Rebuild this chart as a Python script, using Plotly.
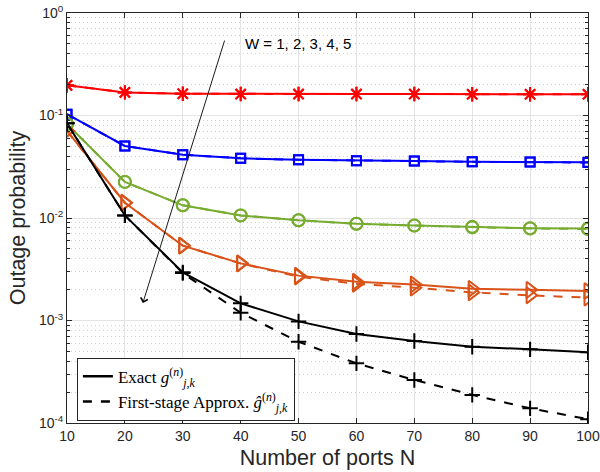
import plotly.graph_objects as go
import numpy as np

N = [10, 20, 30, 40, 50, 60, 70, 80, 90, 100]

exact_w1 = [0.197, 0.168, 0.163, 0.162, 0.162, 0.162, 0.162, 0.161, 0.161, 0.161]
exact_w2 = [0.103, 0.0504, 0.0415, 0.0382, 0.0370, 0.0362, 0.0359, 0.0354, 0.0352, 0.0349]
exact_w3 = [0.0826, 0.0225, 0.0133, 0.0106, 0.0095, 0.0088, 0.00846, 0.0082, 0.00796, 0.0079]
exact_w4 = [0.0706, 0.0141, 0.00537, 0.00361, 0.00274, 0.00239, 0.00225, 0.00204, 0.00199, 0.00194]
exact_w5 = [0.084, 0.0106, 0.00295, 0.00147, 0.00098, 0.000738, 0.000631, 0.000555, 0.000523, 0.00049]

approx_w1 = [0.197, 0.168, 0.163, 0.162, 0.162, 0.162, 0.162, 0.161, 0.161, 0.161]
approx_w2 = [0.103, 0.0504, 0.0415, 0.0382, 0.0370, 0.0362, 0.0359, 0.0353, 0.0351, 0.0348]
approx_w3 = [0.0826, 0.0225, 0.0133, 0.0106, 0.0095, 0.0088, 0.00843, 0.0081, 0.0079, 0.0078]
approx_w4 = [0.0706, 0.0141, 0.00537, 0.0036, 0.00268, 0.00228, 0.00209, 0.00188, 0.00176, 0.00167]
approx_w5 = [0.084, 0.0106, 0.0029, 0.00119, 0.00062, 0.000382, 0.000263, 0.000188, 0.000139, 0.000109]

series = [
    ("W=1", exact_w1, approx_w1, "#FF0000", "asterisk-open", 12),
    ("W=2", exact_w2, approx_w2, "#0000FF", "square-open", 9),
    ("W=3", exact_w3, approx_w3, "#77AC30", "circle-open", 12),
    ("W=4", exact_w4, approx_w4, "#D95319", "triangle-right-open", 14),
    ("W=5", exact_w5, approx_w5, "#000000", "cross-thin-open", 11),
]

y_ticks = [1e-4, 1e-3, 1e-2, 1e-1, 1e0]
y_ticktext = ["10<sup>-4</sup>", "10<sup>-3</sup>", "10<sup>-2</sup>", "10<sup>-1</sup>", "10<sup>0</sup>"]
x_ticks = [10, 20, 30, 40, 50, 60, 70, 80, 90, 100]

fig = go.Figure()

for name, ex, ap, col, sym, ms in series:
    fig.add_trace(go.Scatter(
        x=N, y=ap, mode="lines+markers", showlegend=False,
        line=dict(color=col, width=2, dash="dash"),
        marker=dict(symbol=sym, size=ms, color=col, line=dict(color=col, width=2)),
    ))
    fig.add_trace(go.Scatter(
        x=N, y=ex, mode="lines+markers", showlegend=False,
        line=dict(color=col, width=2),
        marker=dict(symbol=sym, size=ms, color=col, line=dict(color=col, width=2)),
    ))

fig.add_trace(go.Scatter(
    x=[None], y=[None], mode="lines", name="Exact <i>g</i><sup>(<i>n</i>)</sup><sub><i>j,k</i></sub>",
    line=dict(color="black", width=2.5)))
fig.add_trace(go.Scatter(
    x=[None], y=[None], mode="lines", name="First-stage Approx. <i>ĝ</i><sup>(<i>n</i>)</sup><sub><i>j,k</i></sub>",
    line=dict(color="black", width=2.5, dash="dash")))

minor_vals = [m * 10.0 ** e for e in range(-4, 0) for m in range(2, 10)]

axis_col = "#262626"
fig.update_xaxes(
    type="linear", range=[10, 100], tickvals=x_ticks, automargin=False,
    ticklabeloverflow="allow",
    ticks="inside", ticklen=5, tickcolor=axis_col, mirror="ticks",
    showline=True, linecolor=axis_col, linewidth=1,
    showgrid=True, gridcolor="#e4e4e4", gridwidth=1, zeroline=False,
    tickfont=dict(family="Liberation Sans, Arial", size=14, color=axis_col),
    title=dict(text="Number of ports N", font=dict(family="Liberation Sans, Arial", size=21.5, color=axis_col), standoff=7),
)
fig.update_yaxes(
    type="log", range=[-4, 0], tickvals=y_ticks, ticktext=y_ticktext, automargin=False,
    ticklabeloverflow="allow",
    ticks="inside", ticklen=5, tickcolor=axis_col, mirror="ticks",
    showline=True, linecolor=axis_col, linewidth=1,
    showgrid=True, gridcolor="#e4e4e4", gridwidth=1, zeroline=False,
    minor=dict(tickvals=minor_vals, ticks="inside", ticklen=3, tickcolor=axis_col,
               showgrid=True, gridcolor="#cfcfcf", griddash="1px,3px", gridwidth=1),
    tickfont=dict(family="Liberation Sans, Arial", size=14, color=axis_col),
    title=dict(text="Outage probability", font=dict(family="Liberation Sans, Arial", size=21.5, color=axis_col), standoff=7),
)

fig.add_annotation(
    x=23.1, y=np.log10(1.48e-3), xref="x", yref="y",
    ax=37.3, ay=np.log10(0.557), axref="x", ayref="y",
    showarrow=True, arrowhead=4, arrowsize=1.6, arrowwidth=0.9, arrowcolor="black", text="",
)
fig.add_annotation(
    x=40.4, y=np.log10(0.5), xref="x", yref="y", xanchor="left", yanchor="middle",
    text="W = 1, 2, 3, 4, 5", showarrow=False,
    font=dict(family="Liberation Sans, Arial", size=15, color="black"),
)

fig.update_layout(
    width=600, height=472,
    margin=dict(l=67, r=12, t=13, b=49),
    plot_bgcolor="white", paper_bgcolor="white",
    showlegend=True,
    legend=dict(x=0.019, y=0.159, xanchor="left", yanchor="top",
                bgcolor="white", bordercolor=axis_col, borderwidth=1,
                font=dict(family="Liberation Serif, DejaVu Serif, serif", size=17, color="black"),
                tracegroupgap=0, itemwidth=30),
)

fig.write_html("out.html")
